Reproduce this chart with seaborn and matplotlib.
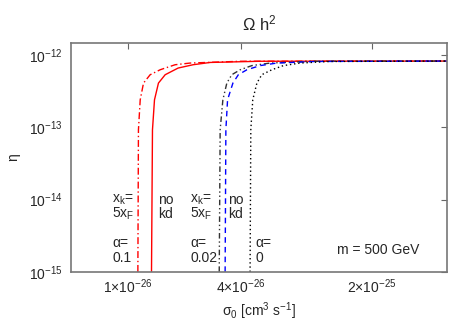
import matplotlib
matplotlib.use('Agg')
import matplotlib.pyplot as plt
import seaborn as sns
import pandas as pd

# eta plateau value
eta_top = 8.2e-13
eta_levels = [1e-15, 9.2e-14, 2.39e-13, 4.07e-13, 5.31e-13, 6.22e-13, 7.1e-13, 7.7e-13]

# alpha = 0.1, no kd (red solid)
sig_a01_nokd = [1.339e-26, 1.355e-26, 1.389e-26, 1.458e-26, 1.583e-26, 1.856e-26, 2.23e-26, 2.75e-26, 5.07e-26, 5e-25]
eta_a01_nokd = [1e-15, 9.2e-14, 2.39e-13, 4.07e-13, 5.31e-13, 6.57e-13, 7.3e-13, 7.85e-13, 8.15e-13, 8.2e-13]

# alpha = 0.1, x_k = 5 x_F (red dash-dot)
sig_a01_xk = [1.133e-26, 1.141e-26, 1.166e-26, 1.214e-26, 1.317e-26, 1.489e-26, 1.789e-26, 2.15e-26, 4.0e-26, 5e-25]
eta_a01_xk = [1e-15, 9.2e-14, 2.39e-13, 4.07e-13, 5.31e-13, 6.22e-13, 7.3e-13, 7.7e-13, 8.15e-13, 8.2e-13]

# alpha = 0.02, x_k = 5 x_F (black dash-dot-dot)
sig_a002_xk = [3.07e-26, 3.105e-26, 3.21e-26, 3.37e-26, 3.58e-26, 3.97e-26, 4.58e-26, 5.73e-26, 9.5e-26, 5e-25]
eta_a002_xk = eta_levels + [8.15e-13, 8.2e-13]

# alpha = 0.02, no kd (blue dashed)
sig_a002_nokd = [3.30e-26, 3.33e-26, 3.40e-26, 3.63e-26, 3.88e-26, 4.31e-26, 5.07e-26, 6.22e-26, 1.0e-25, 5e-25]
eta_a002_nokd = eta_levels + [8.1e-13, 8.2e-13]

# alpha = 0 (black dotted)
sig_a0 = [4.48e-26, 4.52e-26, 4.63e-26, 4.87e-26, 5.17e-26, 5.85e-26, 6.74e-26, 8.27e-26, 1.19e-25, 5e-25]
eta_a0 = eta_levels + [8.1e-13, 8.2e-13]

x_ticks = [1e-26, 4e-26, 2e-25]
x_ticklabels = [r'1×10$\mathregular{^{-26}}$', r'4×10$\mathregular{^{-26}}$', r'2×10$\mathregular{^{-25}}$']
y_ticks = [1e-15, 1e-14, 1e-13, 1e-12]
y_ticklabels = [r'10$\mathregular{^{-15}}$', r'10$\mathregular{^{-14}}$', r'10$\mathregular{^{-13}}$', r'10$\mathregular{^{-12}}$']

sns.set_style('white')
plt.rcParams['font.family'] = ['Liberation Sans', 'DejaVu Sans']
plt.rcParams['font.size'] = 10
plt.rcParams['mathtext.fontset'] = 'custom'
plt.rcParams['mathtext.rm'] = 'Liberation Sans'

fig = plt.figure(figsize=(4.74, 3.32), dpi=100)
ax = fig.add_axes([0.150, 0.181, 0.793, 0.689])
ax.set_xscale('log')
ax.set_yscale('log')

curves = [
    (sig_a01_xk, eta_a01_xk, '#ff0000', (0, (5, 2, 1, 2))),
    (sig_a01_nokd, eta_a01_nokd, '#ff0000', '-'),
    (sig_a002_xk, eta_a002_xk, '#333333', (0, (4, 2, 1, 2, 1, 2))),
    (sig_a002_nokd, eta_a002_nokd, '#0000ff', (0, (4, 3))),
    (sig_a0, eta_a0, '#000000', (0, (1, 2))),
]
for sig, eta, col, ls in curves:
    df = pd.DataFrame({'sigma': sig, 'eta': eta})
    sns.lineplot(data=df, x='sigma', y='eta', ax=ax, color=col, linestyle=ls,
                 linewidth=1, estimator=None, sort=False)

ax.set_xlim(5e-27, 5e-25)
ax.set_ylim(1e-15, 1.45e-12)
ax.set_xticks(x_ticks)
ax.set_xticklabels(x_ticklabels)
ax.set_yticks(y_ticks)
ax.set_yticklabels(y_ticklabels)
ax.minorticks_off()
ax.tick_params(direction='in', length=4, width=0.8, color='#666666', top=True, right=True, pad=6)
ax.tick_params(axis='x', pad=4)
for s in ax.spines.values():
    s.set_color('#777777')
    s.set_linewidth(1.2)

ax.set_xlabel('σ' + r'$\mathregular{_0}$ [cm$\mathregular{^3}$ s$\mathregular{^{-1}}$]', labelpad=3)
ax.set_ylabel('η', labelpad=6)
ax.set_title(r'Ω h$\mathregular{^2}$', pad=9)

tr = ax.transAxes
def px(x, y):
    return ((x - 71) / 376, (272 - y) / 229)

labels = [
    (112, 200, r'x$\mathregular{_k}$='), (112, 214, r'5x$\mathregular{_F}$'),
    (158, 200, 'no'), (158, 214, 'kd'),
    (112, 243, 'α='), (112, 258, '0.1'),
    (190, 200, r'x$\mathregular{_k}$='), (190, 214, r'5x$\mathregular{_F}$'),
    (228, 200, 'no'), (228, 214, 'kd'),
    (190, 243, 'α='), (190, 258, '0.02'),
    (255, 243, 'α='), (255, 258, '0'),
    (337, 250, 'm = 500 GeV'),
]
for x, y, t in labels:
    xa, ya = px(x, y)
    ax.text(xa, ya, t, transform=tr, ha='left', va='center')

fig.savefig('out.png', dpi=100)
